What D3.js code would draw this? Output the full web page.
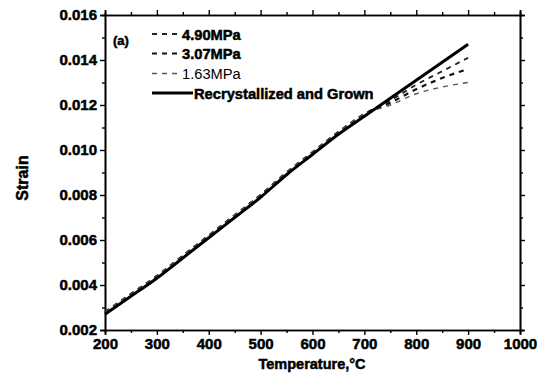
<!DOCTYPE html>
<html>
<head>
<meta charset="utf-8">
<script src="https://cdn.jsdelivr.net/npm/d3@7"></script>
<style>
  body { margin: 0; background: #fff; }
  svg text { font-family: "Liberation Sans", Arial, sans-serif; font-weight: bold; fill: #000; }
  .heavy { stroke: #000; stroke-width: 0.5px; }
</style>
</head>
<body>
<div id="chart"></div>
<script>
// temperatures (°C)
let temps = [200, 250, 300, 350, 400, 450, 500, 550, 600, 650, 700, 750, 800, 850, 900];

// strain for each curve
let grown = [0.0027, 0.0035, 0.0043, 0.0052, 0.0061, 0.0070, 0.0079, 0.0089, 0.0098, 0.0107, 0.0115, 0.0123, 0.0131, 0.0139, 0.0147];
let mpa490 = [0.0028, 0.0036, 0.0044, 0.0053, 0.0062, 0.0071, 0.0080, 0.0090, 0.0099, 0.0108, 0.0116, 0.0122, 0.0129, 0.0135, 0.0141];
let mpa307 = [0.0028, 0.0036, 0.0044, 0.0053, 0.0062, 0.0071, 0.0080, 0.0090, 0.0099, 0.0108, 0.0116, 0.0121, 0.0127, 0.0132, 0.0136];
let mpa163 = [0.0028, 0.0036, 0.0044, 0.0053, 0.0062, 0.0071, 0.0080, 0.0090, 0.0099, 0.0108, 0.0116, 0.0120, 0.0125, 0.0128, 0.0130];

let xTicks = [200, 300, 400, 500, 600, 700, 800, 900, 1000];
let yTicks = [0.002, 0.004, 0.006, 0.008, 0.010, 0.012, 0.014, 0.016];

let series = [
    {name: "4.90MPa", values: mpa490, width: 1.8, dash: "5,5", color: "#222", len: 29},
    {name: "3.07MPa", values: mpa307, width: 2.2, dash: "5,5", color: "#111", len: 29},
    {name: "1.63MPa", values: mpa163, width: 1.4, dash: "5,5", color: "#555", len: 29},
    {name: "Recrystallized and Grown", values: grown, width: 3, dash: null, color: "#000", len: 41}
];

let width = 548, height = 385;
let margin = {top: 15, right: 28, bottom: 55, left: 105};

let svg = d3.select("#chart").append("svg")
    .attr("width", width)
    .attr("height", height);

let x = d3.scaleLinear().domain([200, 1000]).range([margin.left, width - margin.right]);
let y = d3.scaleLinear().domain([0.002, 0.016]).range([height - margin.bottom, margin.top]);

// minor ticks
let xMinor = d3.range(250, 1000, 100);
let yMinor = d3.range(0.003, 0.016, 0.002);

function styleAxis(g) {
    g.select(".domain").attr("stroke", "#000").attr("stroke-width", 1.6);
    g.selectAll(".tick line").attr("stroke", "#000").attr("stroke-width", 1.4);
}

// bottom
svg.append("g")
    .attr("transform", `translate(0,${y(0.002)})`)
    .call(d3.axisBottom(x).tickValues(xTicks).tickSize(5).tickPadding(3).tickFormat(d3.format("d")))
    .call(styleAxis)
    .call(g => g.selectAll("text").attr("class", "heavy").style("font-size", "15px"));
svg.append("g")
    .attr("transform", `translate(0,${y(0.002)})`)
    .call(d3.axisBottom(x).tickValues(xMinor).tickSize(3).tickFormat(""))
    .call(styleAxis);

// top
svg.append("g")
    .attr("transform", `translate(0,${y(0.016)})`)
    .call(d3.axisTop(x).tickValues(xTicks).tickSize(5).tickFormat(""))
    .call(styleAxis);
svg.append("g")
    .attr("transform", `translate(0,${y(0.016)})`)
    .call(d3.axisTop(x).tickValues(xMinor).tickSize(3).tickFormat(""))
    .call(styleAxis);

// left
svg.append("g")
    .attr("transform", `translate(${x(200)},0)`)
    .call(d3.axisLeft(y).tickValues(yTicks).tickSize(5).tickPadding(3).tickFormat(d3.format(".3f")))
    .call(styleAxis)
    .call(g => g.selectAll("text").attr("class", "heavy").style("font-size", "15px"));
svg.append("g")
    .attr("transform", `translate(${x(200)},0)`)
    .call(d3.axisLeft(y).tickValues(yMinor).tickSize(3).tickFormat(""))
    .call(styleAxis);

// right
svg.append("g")
    .attr("transform", `translate(${x(1000)},0)`)
    .call(d3.axisRight(y).tickValues(yTicks).tickSize(5).tickFormat(""))
    .call(styleAxis);
svg.append("g")
    .attr("transform", `translate(${x(1000)},0)`)
    .call(d3.axisRight(y).tickValues(yMinor).tickSize(3).tickFormat(""))
    .call(styleAxis);

// lines
let line = d3.line()
    .x((d, i) => x(temps[i]))
    .y(d => y(d))
    .curve(d3.curveMonotoneX);

series.forEach(s => {
    svg.append("path")
        .datum(s.values)
        .attr("fill", "none")
        .attr("stroke", s.color)
        .attr("stroke-width", s.width)
        .attr("stroke-dasharray", s.dash)
        .attr("d", line);
});

// legend
let rowY = [34, 53.5, 73.5, 93];
let legend = svg.append("g").attr("transform", "translate(152,0)");
series.forEach((s, i) => {
    let row = legend.append("g").attr("transform", `translate(0,${rowY[i]})`);
    row.append("line")
        .attr("x1", 0).attr("x2", s.len)
        .attr("stroke", s.color)
        .attr("stroke-width", s.width)
        .attr("stroke-dasharray", s.dash);
    row.append("text")
        .attr("x", s.len + 1).attr("y", 5.5)
        .attr("class", s.name === "1.63MPa" ? null : "heavy")
        .style("font-size", "14.7px")
        .style("font-weight", s.name === "1.63MPa" ? "normal" : "bold")
        .text(s.name);
});

svg.append("text")
    .attr("x", 113).attr("y", 45)
    .attr("class", "heavy")
    .style("font-size", "13px")
    .text("(a)");

// axis titles
svg.append("text")
    .attr("transform", "translate(28,178) rotate(-90)")
    .attr("text-anchor", "middle")
    .attr("class", "heavy")
    .style("font-size", "16px")
    .text("Strain");

svg.append("text")
    .attr("x", 312)
    .attr("y", 369)
    .attr("text-anchor", "middle")
    .attr("class", "heavy")
    .style("font-size", "14.5px")
    .text("Temperature,°C");
</script>
</body>
</html>
